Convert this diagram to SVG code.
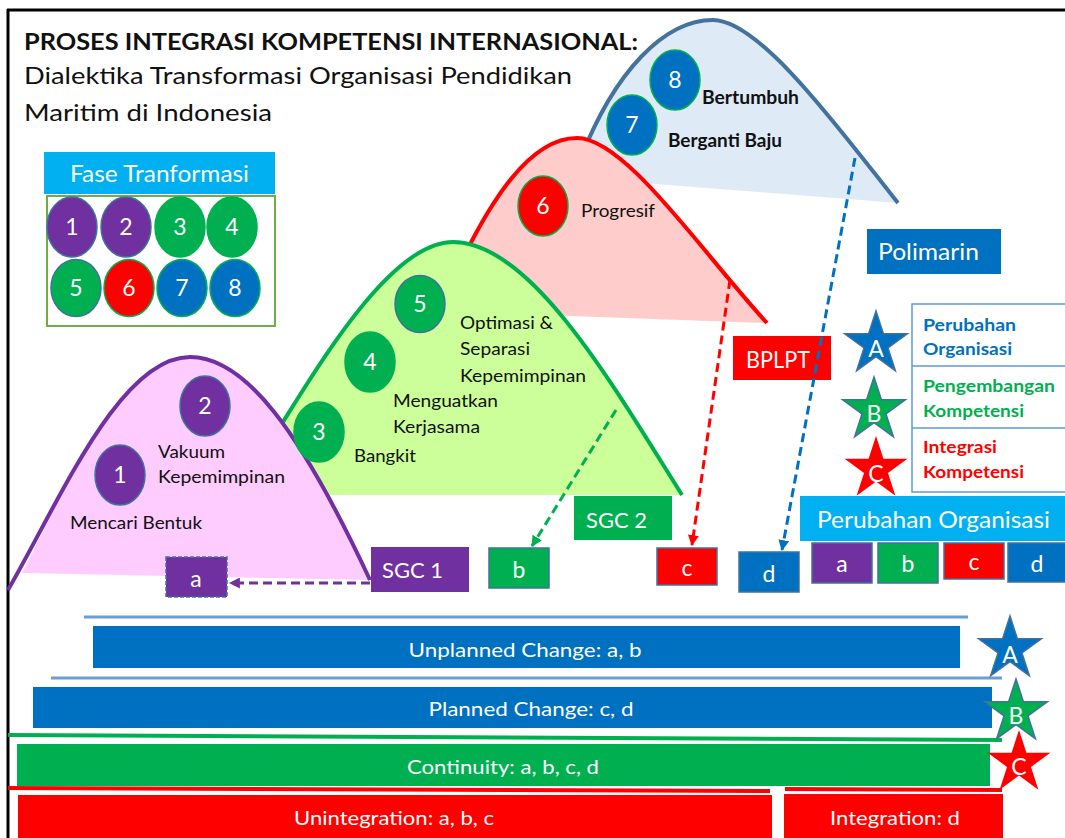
<svg xmlns="http://www.w3.org/2000/svg" width="1065" height="838" viewBox="0 0 1065 838">
<style>
.t{font-family:Lato,"Liberation Sans",sans-serif;}
.w{fill:#fff;}
.k{fill:#111;}
.num{font-family:Lato,"Liberation Sans",sans-serif;font-size:23px;fill:#fff;text-anchor:middle;}
.lab{font-family:Lato,"Liberation Sans",sans-serif;font-size:18px;fill:#111;}
.bl{font-family:Lato,"Liberation Sans",sans-serif;font-size:17.5px;font-weight:bold;}
.box{stroke:#41719C;stroke-width:1.5;}
.bar{font-family:Lato,"Liberation Sans",sans-serif;font-size:20px;fill:#fff;text-anchor:middle;}
.pu{fill:#7030A0;}.gr{fill:#00B050;}.rd{fill:#FF0000;}.bu{fill:#0070C0;}.lb{fill:#00B0F0;}
.sg{stroke:#41719C;stroke-width:1.5;}
.sgr{stroke:#00B050;stroke-width:1.5;}
.dash{fill:none;stroke-width:3;stroke-dasharray:9 5;}
.sepline{stroke:#6A9FD6;stroke-width:3;}
</style>
<defs>
<polygon id="star" points="0,-33 7.41,-10.19 31.38,-10.2 11.98,3.89 19.4,26.7 0,12.6 -19.4,26.7 -11.98,3.89 -31.38,-10.2 -7.41,-10.19"/>
<marker id="mp" viewBox="0 0 10 10" refX="9" refY="5" markerWidth="11" markerHeight="11" markerUnits="userSpaceOnUse" orient="auto"><path d="M0,0 L10,5 L0,10 z" fill="#7030A0"/></marker>
<marker id="mg" viewBox="0 0 10 10" refX="9" refY="5" markerWidth="11" markerHeight="11" markerUnits="userSpaceOnUse" orient="auto"><path d="M0,0 L10,5 L0,10 z" fill="#00B050"/></marker>
<marker id="mr" viewBox="0 0 10 10" refX="9" refY="5" markerWidth="11" markerHeight="11" markerUnits="userSpaceOnUse" orient="auto"><path d="M0,0 L10,5 L0,10 z" fill="#FF0000"/></marker>
<marker id="mb" viewBox="0 0 10 10" refX="9" refY="5" markerWidth="11" markerHeight="11" markerUnits="userSpaceOnUse" orient="auto"><path d="M0,0 L10,5 L0,10 z" fill="#0070C0"/></marker>
</defs>
<rect x="0" y="0" width="1065" height="838" fill="#fff"/>
<g id="frame" stroke="#000" stroke-width="3" fill="none">
<line x1="7" y1="10" x2="1065" y2="10"/>
<line x1="8" y1="9" x2="8" y2="838"/>
</g>
<g id="title">
<text class="t k" x="24" y="50" font-size="23" font-weight="bold" textLength="614" lengthAdjust="spacingAndGlyphs">PROSES INTEGRASI KOMPETENSI INTERNASIONAL:</text>
<text class="t k" x="24" y="84" font-size="24" textLength="548" lengthAdjust="spacingAndGlyphs">Dialektika Transformasi Organisasi Pendidikan</text>
<text class="t k" x="24" y="121" font-size="24" textLength="248" lengthAdjust="spacingAndGlyphs">Maritim di Indonesia</text>
</g>
<g id="fase">
<rect class="lb" x="44" y="152" width="231" height="42"/>
<text class="t w" x="70" y="182" font-size="23" textLength="179" lengthAdjust="spacingAndGlyphs">Fase Tranformasi</text>
<rect x="47" y="196" width="228" height="130" fill="#fff" stroke="#70AD47" stroke-width="2"/>
<ellipse class="pu sg" cx="72" cy="227" rx="25" ry="30"/><text class="num" x="72" y="235">1</text>
<ellipse class="pu sg" cx="126" cy="227" rx="25" ry="30"/><text class="num" x="126" y="235">2</text>
<ellipse class="gr sgr" cx="180" cy="227" rx="25" ry="30"/><text class="num" x="180" y="235">3</text>
<ellipse class="gr sgr" cx="232" cy="227" rx="25" ry="30"/><text class="num" x="232" y="235">4</text>
<ellipse class="gr sg" cx="76" cy="288" rx="25" ry="28.5"/><text class="num" x="76" y="296">5</text>
<ellipse class="rd sgr" cx="129" cy="288" rx="25" ry="28.5"/><text class="num" x="129" y="296">6</text>
<ellipse class="bu sgr" cx="182" cy="288" rx="25" ry="28.5"/><text class="num" x="182" y="296">7</text>
<ellipse class="bu sgr" cx="235" cy="288" rx="25" ry="28.5"/><text class="num" x="235" y="296">8</text>
</g>
<g id="mountain-blue">
<path d="M580,160 C615,70 665,20 713,20 C760,20 840,130 898,203 L580,178 Z" fill="#DEEBF7"/>
<path d="M580,160 C615,70 665,20 713,20 C760,20 840,130 898,203" fill="none" stroke="#44729F" stroke-width="4"/>
</g>
<g id="mountain-red">
<path d="M455,275 C490,200 530,138 577,138 C625,138 700,250 767,323 L455,312 Z" fill="#FFCCCC"/>
<path d="M455,275 C490,200 530,138 577,138 C625,138 700,250 767,323" fill="none" stroke="#FF0000" stroke-width="4"/>
</g>
<g id="mountain-green">
<path d="M270,442 C305,390 385,242 453,242 C530,242 610,380 682,495 L280,495 Z" fill="#CCFF99"/>
<path d="M270,442 C305,390 385,242 453,242 C530,242 610,380 682,495" fill="none" stroke="#00B050" stroke-width="4"/>
</g>
<g id="mountain-purple">
<path d="M22,573 C60,500 120,357 190,357 C245,357 300,430 370,580 Z" fill="#FFCCFF"/>
<path d="M8,590 C60,500 120,357 190,357 C245,357 300,430 370,580" fill="none" stroke="#7030A0" stroke-width="4"/>
</g>
<g id="phase-1"><ellipse class="pu sg" cx="120" cy="475" rx="25" ry="30"/><text class="num" x="120" y="483">1</text>
<text class="lab" x="70" y="529" textLength="132" lengthAdjust="spacingAndGlyphs">Mencari Bentuk</text></g>
<g id="phase-2"><ellipse class="pu sg" cx="205" cy="406" rx="25" ry="30"/><text class="num" x="205" y="414">2</text>
<text class="lab" x="158" y="458" textLength="67" lengthAdjust="spacingAndGlyphs">Vakuum</text>
<text class="lab" x="158" y="483" textLength="127" lengthAdjust="spacingAndGlyphs">Kepemimpinan</text></g>
<g id="phase-3"><ellipse class="gr sgr" cx="319" cy="432" rx="25" ry="30"/><text class="num" x="319" y="440">3</text>
<text class="lab" x="354" y="462" textLength="62" lengthAdjust="spacingAndGlyphs">Bangkit</text></g>
<g id="phase-4"><ellipse class="gr sgr" cx="370" cy="362" rx="25" ry="30"/><text class="num" x="370" y="370">4</text>
<text class="lab" x="393" y="407" textLength="105" lengthAdjust="spacingAndGlyphs">Menguatkan</text>
<text class="lab" x="393" y="433" textLength="87" lengthAdjust="spacingAndGlyphs">Kerjasama</text></g>
<g id="phase-5"><ellipse class="gr sg" cx="420" cy="304" rx="25" ry="28.5"/><text class="num" x="420" y="312">5</text>
<text class="lab" x="460" y="329" textLength="93" lengthAdjust="spacingAndGlyphs">Optimasi &amp;</text>
<text class="lab" x="460" y="355" textLength="70" lengthAdjust="spacingAndGlyphs">Separasi</text>
<text class="lab" x="460" y="382" textLength="126" lengthAdjust="spacingAndGlyphs">Kepemimpinan</text></g>
<g id="phase-6"><ellipse class="rd sgr" cx="543" cy="206" rx="25" ry="30"/><text class="num" x="543" y="214">6</text>
<text class="lab" x="581" y="217" textLength="74" lengthAdjust="spacingAndGlyphs">Progresif</text></g>
<g id="phase-7"><ellipse class="bu sgr" cx="632" cy="125" rx="25" ry="30"/><text class="num" x="632" y="133">7</text>
<text class="lab" x="668" y="147" font-weight="bold" textLength="114" lengthAdjust="spacingAndGlyphs">Berganti Baju</text></g>
<g id="phase-8"><ellipse class="bu sgr" cx="675" cy="80" rx="25" ry="30"/><text class="num" x="675" y="88">8</text>
<text class="lab" x="702" y="104" font-weight="bold" textLength="97" lengthAdjust="spacingAndGlyphs">Bertumbuh</text></g>
<g id="polimarin"><rect class="bu" x="867" y="229" width="134" height="45"/>
<text class="t w" x="878" y="260" font-size="23" textLength="101" lengthAdjust="spacingAndGlyphs">Polimarin</text></g>
<g id="bplpt"><rect class="rd" x="733" y="336" width="98" height="44"/>
<text class="t w" x="746" y="368" font-size="23" textLength="64" lengthAdjust="spacingAndGlyphs">BPLPT</text></g>
<g id="sgc1"><rect class="pu" x="371" y="547" width="98" height="45"/>
<text class="t w" x="382" y="578" font-size="22" textLength="61" lengthAdjust="spacingAndGlyphs">SGC 1</text></g>
<g id="sgc2"><rect class="gr" x="574" y="496" width="98" height="44"/>
<text class="t w" x="586" y="528" font-size="22" textLength="61" lengthAdjust="spacingAndGlyphs">SGC 2</text></g>
<g id="box-a"><rect class="pu" x="166" y="557" width="61" height="40" stroke="#41719C" stroke-width="1.5" stroke-dasharray="4 2"/>
<text class="num" x="196" y="587">a</text></g>
<g id="box-b"><rect class="gr box" x="489" y="548" width="60" height="40"/><text class="num" x="519" y="578">b</text></g>
<g id="box-c"><rect class="rd box" x="657" y="548" width="60" height="37"/><text class="num" x="687" y="576">c</text></g>
<g id="box-d"><rect class="bu box" x="739" y="552" width="60" height="40"/><text class="num" x="769" y="582">d</text></g>
<g id="legend">
<rect x="912" y="304" width="160" height="188" fill="#fff" stroke="#5B9BD5" stroke-width="1.5"/>
<line x1="912" y1="366" x2="1065" y2="366" stroke="#5B9BD5" stroke-width="1.5"/>
<line x1="912" y1="428" x2="1065" y2="428" stroke="#5B9BD5" stroke-width="1.5"/>
<text class="bl" x="923" y="331" fill="#0070C0" textLength="93" lengthAdjust="spacingAndGlyphs">Perubahan</text>
<text class="bl" x="923" y="355" fill="#0070C0" textLength="89" lengthAdjust="spacingAndGlyphs">Organisasi</text>
<text class="bl" x="923" y="392" fill="#00B050" textLength="132" lengthAdjust="spacingAndGlyphs">Pengembangan</text>
<text class="bl" x="923" y="417" fill="#00B050" textLength="101" lengthAdjust="spacingAndGlyphs">Kompetensi</text>
<text class="bl" x="923" y="453" fill="#FF0000" textLength="74" lengthAdjust="spacingAndGlyphs">Integrasi</text>
<text class="bl" x="923" y="478" fill="#FF0000" textLength="101" lengthAdjust="spacingAndGlyphs">Kompetensi</text>
</g>
<g id="star-A1"><use href="#star" transform="translate(876,344)" fill="#0070C0" stroke="#41719C" stroke-width="1.5"/><text class="num" x="876" y="357">A</text></g>
<g id="star-B1"><use href="#star" transform="translate(874,410)" fill="#00B050" stroke="#41719C" stroke-width="1.5"/><text class="num" x="874" y="422">B</text></g>
<g id="star-C1"><use href="#star" transform="translate(876,469)" fill="#FF0000"/><text class="num" x="876" y="482">C</text></g>
<g id="perubahan-organisasi">
<rect class="lb" x="800" y="496" width="265" height="45"/>
<text class="t w" x="817" y="528" font-size="23" textLength="233" lengthAdjust="spacingAndGlyphs">Perubahan Organisasi</text>
<rect class="pu box" x="812" y="543" width="60" height="40"/><text class="num" x="842" y="572">a</text>
<rect class="gr box" x="878" y="543" width="60" height="40"/><text class="num" x="908" y="572">b</text>
<rect class="rd box" x="944" y="543" width="60" height="36"/><text class="num" x="974" y="570">c</text>
<rect class="bu box" x="1008" y="543" width="60" height="39"/><text class="num" x="1037" y="572">d</text>
</g>
<g id="bars">
<line class="sepline" x1="84" y1="617" x2="968" y2="617"/>
<rect class="bu" x="93" y="626" width="867" height="42"/>
<text class="bar" x="525" y="657" textLength="233" lengthAdjust="spacingAndGlyphs">Unplanned  Change: a, b</text>
<line class="sepline" x1="51" y1="678" x2="1002" y2="678"/>
<rect class="bu" x="33" y="687" width="959" height="41"/>
<text class="bar" x="531" y="716" textLength="205" lengthAdjust="spacingAndGlyphs">Planned  Change: c, d</text>
<line x1="8" y1="735" x2="1002" y2="740" stroke="#00B050" stroke-width="4"/>
<rect class="gr" x="17" y="744" width="973" height="42"/>
<text class="bar" x="503" y="774" textLength="192" lengthAdjust="spacingAndGlyphs">Continuity: a, b, c, d</text>
<line x1="8" y1="788" x2="770" y2="791" stroke="#FF0000" stroke-width="4"/>
<line x1="785" y1="789" x2="1002" y2="790" stroke="#FF0000" stroke-width="4"/>
<rect class="rd" x="18" y="795" width="754" height="43"/>
<text class="bar" x="394" y="825" textLength="200" lengthAdjust="spacingAndGlyphs">Unintegration: a, b, c</text>
<rect class="rd" x="784" y="794" width="219" height="44"/>
<text class="bar" x="895" y="825" textLength="130" lengthAdjust="spacingAndGlyphs">Integration: d</text>
</g>
<g id="star-A2"><use href="#star" transform="translate(1010,649)" fill="#0070C0" stroke="#41719C" stroke-width="1.5"/><text class="num" x="1010" y="663">A</text></g>
<g id="star-B2"><use href="#star" transform="translate(1016,712)" fill="#00B050" stroke="#41719C" stroke-width="1.5"/><text class="num" x="1016" y="724">B</text></g>
<g id="star-C2"><use href="#star" transform="translate(1019,763)" fill="#FF0000"/><text class="num" x="1019" y="775">C</text></g>
<g id="connectors">
<line class="dash" x1="370" y1="583" x2="230" y2="583" stroke="#7030A0" marker-end="url(#mp)"/>
<line class="dash" x1="616" y1="410" x2="532" y2="546" stroke="#00B050" marker-end="url(#mg)"/>
<line class="dash" x1="730" y1="280" x2="692" y2="545" stroke="#FF0000" marker-end="url(#mr)"/>
<line class="dash" x1="855" y1="158" x2="782" y2="550" stroke="#0070C0" marker-end="url(#mb)"/>
</g>
</svg>
